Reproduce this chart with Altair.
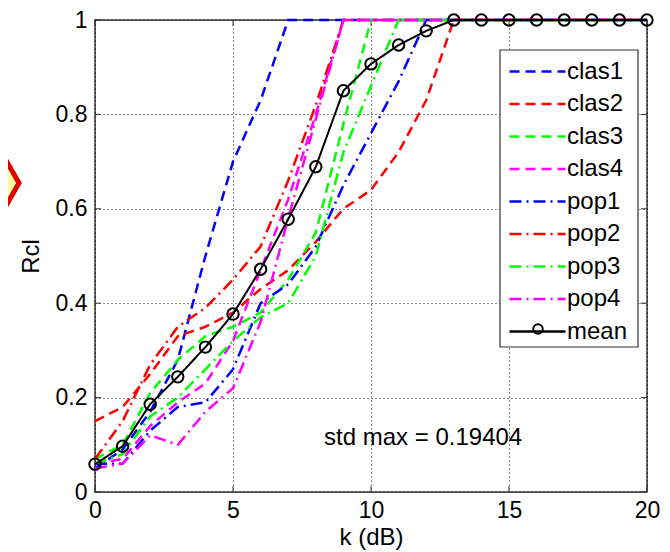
import altair as alt
import pandas as pd

# ---------------- data ----------------
k_values = list(range(21))
series_names = ["clas1", "clas2", "clas3", "clas4", "pop1", "pop2", "pop3", "pop4", "mean"]

clas1 = [0.05, 0.09, 0.17, 0.28, 0.50, 0.70, 0.83, 1, 1, 1, 1, 1, 1, 1, 1, 1, 1, 1, 1, 1, 1]
clas2 = [0.15, 0.18, 0.25, 0.33, 0.35, 0.38, 0.43, 0.47, 0.53, 0.60, 0.64, 0.72, 0.83, 1, 1, 1, 1, 1, 1, 1, 1]
clas3 = [0.07, 0.10, 0.21, 0.28, 0.33, 0.35, 0.38, 0.45, 0.55, 0.78, 1, 1, 1, 1, 1, 1, 1, 1, 1, 1, 1]
clas4 = [0.06, 0.07, 0.14, 0.19, 0.23, 0.32, 0.47, 0.62, 0.80, 1, 1, 1, 1, 1, 1, 1, 1, 1, 1, 1, 1]
pop1 = [0.06, 0.06, 0.13, 0.18, 0.19, 0.26, 0.40, 0.44, 0.52, 0.65, 0.76, 0.87, 1, 1, 1, 1, 1, 1, 1, 1, 1]
pop2 = [0.07, 0.15, 0.27, 0.35, 0.39, 0.45, 0.52, 0.66, 0.82, 1, 1, 1, 1, 1, 1, 1, 1, 1, 1, 1, 1]
pop3 = [0.06, 0.08, 0.16, 0.20, 0.26, 0.32, 0.37, 0.40, 0.50, 0.72, 0.86, 1, 1, 1, 1, 1, 1, 1, 1, 1, 1]
pop4 = [0.05, 0.06, 0.12, 0.10, 0.17, 0.22, 0.36, 0.58, 0.79, 1, 1, 1, 1, 1, 1, 1, 1, 1, 1, 1, 1]
mean = [0.059, 0.097, 0.186, 0.244, 0.307, 0.377, 0.472, 0.578, 0.689, 0.850, 0.907, 0.947, 0.977,
        1, 1, 1, 1, 1, 1, 1, 1]

x_ticks = [0, 5, 10, 15, 20]
y_ticks = [0, 0.2, 0.4, 0.6, 0.8, 1]
std_label = "std max = 0.19404"

# ---------------- tables ----------------
all_series = [clas1, clas2, clas3, clas4, pop1, pop2, pop3, pop4]
rows = []
for name, vals in zip(series_names[:8], all_series):
    for kk, v in zip(k_values, vals):
        rows.append({"series": name, "k": kk, "value": v})
df = pd.DataFrame(rows)
df_mean = pd.DataFrame({"series": ["mean"] * len(k_values), "k": k_values, "value": mean})
df_xt = pd.DataFrame({"k": x_ticks})
df_yt = pd.DataFrame({"value": y_ticks})
one = pd.DataFrame({"d": [0]})

# ---------------- styles ----------------
FONT = "Liberation Sans"
colors = ["#0000ff", "#ff0000", "#00ff00", "#ff00ff",
          "#0000ff", "#ff0000", "#00ff00", "#ff00ff", "#000000"]
DASH = [10, 6]
DASHDOT = [12, 5, 2, 5]
dashes = [DASH] * 4 + [DASHDOT] * 4 + [[1, 0]]

xs = alt.Scale(domain=[0, 20], nice=False, zero=False)
ys = alt.Scale(domain=[0, 1], nice=False, zero=False)

line_path = "M -2 0 L 2 0"

legend = alt.Legend(
    title=None,
    orient="none",
    legendX=405,
    legendY=30,
    padding=6,
    labelFont=FONT,
    labelFontSize=24,
    labelColor="black",
    labelOffset=14,
    symbolType=line_path,
    symbolSize=784,
    symbolStrokeWidth=2.5,
    symbolOffset=16,
    rowPadding=4.5,
    labelLimit=200,
)

color_enc = alt.Color("series:N", scale=alt.Scale(domain=series_names, range=colors), legend=legend)
dash_enc = alt.StrokeDash("series:N", scale=alt.Scale(domain=series_names, range=dashes), legend=legend)

x_axis = alt.Axis(values=x_ticks, title="k (dB)", titleX=276, titleY=45, titleBaseline="middle",
                  labelPadding=7, format="d", labelFlush=False)
y_axis = alt.Axis(values=y_ticks, title="Rcl", titleX=-64, titleY=236, titleBaseline="middle",
                  titleAngle=270, labelPadding=8, format="~g", labelFlush=False)

X = alt.X("k:Q", scale=xs, axis=x_axis)
Y = alt.Y("value:Q", scale=ys, axis=y_axis)

# decorative diamond partially visible on the left edge
diamond = alt.Chart(one).mark_point(
    shape="M 0 -1 L 0.573 0 L 0 1 L -0.573 0 Z", size=22500, filled=True,
    fill="#ffffa0", stroke="#e00000", strokeWidth=5, opacity=1
).encode(x=alt.value(-119), y=alt.value(163))

# legend box (white, framed) drawn under the data lines
legend_box = alt.Chart(one).mark_rect(
    fill="white", stroke="#333333", strokeWidth=1.2
).encode(x=alt.value(405), x2=alt.value(543), y=alt.value(30), y2=alt.value(327))

lines = alt.Chart(df).mark_line(strokeWidth=2.5).encode(
    x=X, y=Y, color=color_enc, strokeDash=dash_enc, order="k:Q",
)

mean_line = alt.Chart(df_mean).mark_line(strokeWidth=2).encode(
    x=X, y=Y, color=color_enc, strokeDash=dash_enc, order="k:Q",
)

mean_pts = alt.Chart(df_mean).mark_point(
    shape="circle", size=130, filled=False, color="black", strokeWidth=2, opacity=1
).encode(x=X, y=Y)

# marker glyph of the "mean" legend entry
legend_marker = alt.Chart(one).mark_point(
    shape="circle", size=90, filled=True, fill="white", stroke="black", strokeWidth=2, opacity=1
).encode(x=alt.value(443), y=alt.value(309))

tick_style = dict(color="#333333", strokeWidth=1)
ticks_bottom = alt.Chart(df_xt).mark_rule(**tick_style).encode(
    x=X, y=alt.value(472), y2=alt.value(466))
ticks_top = alt.Chart(df_xt).mark_rule(**tick_style).encode(
    x=X, y=alt.value(0), y2=alt.value(6))
ticks_left = alt.Chart(df_yt).mark_rule(**tick_style).encode(
    y=Y, x=alt.value(0), x2=alt.value(6))
ticks_right = alt.Chart(df_yt).mark_rule(**tick_style).encode(
    y=Y, x=alt.value(552), x2=alt.value(546))

std_text = alt.Chart(pd.DataFrame({"s": [std_label]})).mark_text(
    align="left", baseline="middle", font=FONT, fontSize=24, color="black"
).encode(x=alt.datum(8.3), y=alt.datum(0.114), text="s:N")

chart = alt.layer(
    diamond, legend_box, ticks_bottom, ticks_top, ticks_left, ticks_right,
    lines, mean_line, mean_pts, legend_marker, std_text
).properties(
    width=552,
    height=472,
    autosize=alt.AutoSizeParams(type="none"),
    padding={"left": 87, "top": 12, "right": 15, "bottom": 58},
).configure_view(
    stroke="#333333", strokeWidth=1.5
).configure_axis(
    grid=True, gridColor="#000000", gridDash=[1, 3], gridWidth=1, gridOpacity=0.9,
    ticks=False, tickSize=0, domain=False,
    labelFont=FONT, labelFontSize=23, labelColor="black",
    titleFont=FONT, titleFontSize=24, titleFontWeight="normal", titleColor="black",
)

chart.save("out.html", embed_options={"renderer": "svg", "actions": False})
